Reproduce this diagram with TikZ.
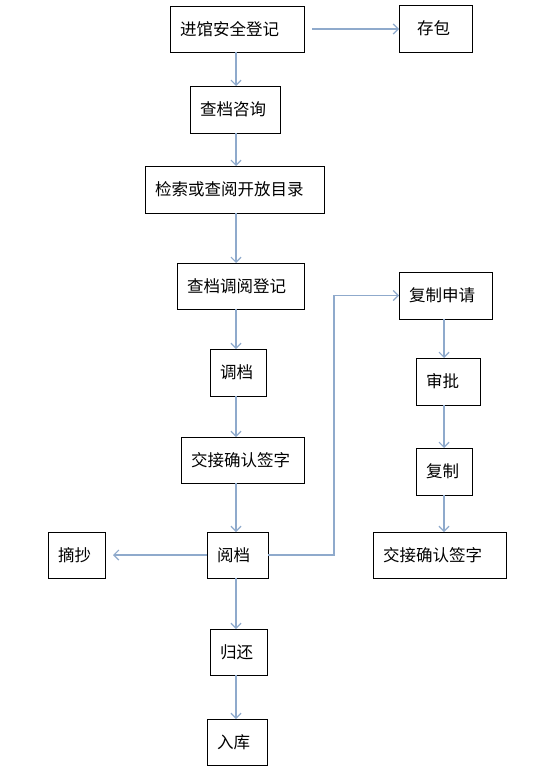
\documentclass[tikz,border=0pt]{standalone}
\usepackage{fontspec}
\setmainfont{Noto Sans CJK SC}
\usetikzlibrary{arrows.meta}
\definecolor{lnblue}{HTML}{8FAACC}
\tikzset{
  box/.style={draw=black, line width=0.9bp, rectangle, inner ysep=0bp, inner xsep=10bp, align=left,
    font=\fontsize{16.5bp}{18bp}\selectfont, anchor=center, outer sep=0bp},
  arr/.style={draw=lnblue, line width=1.5bp, -{Straight Barb[length=5bp,width=10bp,line width=1.2bp]}},
}
\newcommand{\bx}[6]{% name, cx, cy, W, H, text
  \node[box, minimum width=#4 bp, minimum height=#5 bp, text width=#4 bp-20bp] (#1) at (#2,#3) {#6};}
\begin{document}
\begin{tikzpicture}[x=1bp,y=-1bp]
\useasboundingbox (0,0) rectangle (544,776);
\fill[white] (0,0) rectangle (544,776);
\bx{a}{237}{29}{134}{46}{进馆安全登记}
\node[box, minimum width=73bp, minimum height=47bp, inner xsep=18bp, text width=37bp] (b) at (435.5,28.5) {存包};
\bx{c}{235}{109.5}{90}{47}{查档咨询}
\bx{d}{234.5}{189.5}{179}{47}{检索或查阅开放目录}
\bx{e}{240.5}{286}{127}{46}{查档调阅登记}
\bx{f}{238}{372.5}{56}{47}{调档}
\bx{g}{242.5}{460}{123}{46}{交接确认签字}
\bx{h}{237.5}{555}{61}{46}{阅档}
\bx{i}{76.5}{555}{57}{46}{摘抄}
\bx{j}{238.5}{652}{57}{46}{归还}
\bx{k}{237}{742}{60}{46}{入库}
\bx{l}{445.5}{295.5}{93}{47}{复制申请}
\bx{m}{448}{381.5}{64}{47}{审批}
\bx{n}{444}{471.5}{56}{47}{复制}
\bx{o}{439.5}{555}{133}{46}{交接确认签字}
\coordinate (colx) at (236,0);
\coordinate (rcol) at (444,0);
\coordinate (elb) at (334,0);
% main column
\draw[arr] (a.south -| colx) -- (c.north -| colx);
\draw[arr] (c.south -| colx) -- (d.north -| colx);
\draw[arr] (d.south -| colx) -- (e.north -| colx);
\draw[arr] (e.south -| colx) -- (f.north -| colx);
\draw[arr] (f.south -| colx) -- (g.north -| colx);
\draw[arr] (g.south -| colx) -- (h.north -| colx);
\draw[arr] (h.south -| colx) -- (j.north -| colx);
\draw[arr] (j.south -| colx) -- (k.north -| colx);
% side
\draw[arr] ([xshift=8bp]a.east) -- (b.west |- a.east);
\draw[arr] (h.west) -- ([xshift=8bp]i.east);
\draw[arr] (h.east) -| (elb |- l.west) -- (l.west);
% right column
\draw[arr] (l.south -| rcol) -- (m.north -| rcol);
\draw[arr] (m.south -| rcol) -- (n.north -| rcol);
\draw[arr] (n.south -| rcol) -- (o.north -| rcol);
\end{tikzpicture}
\end{document}
